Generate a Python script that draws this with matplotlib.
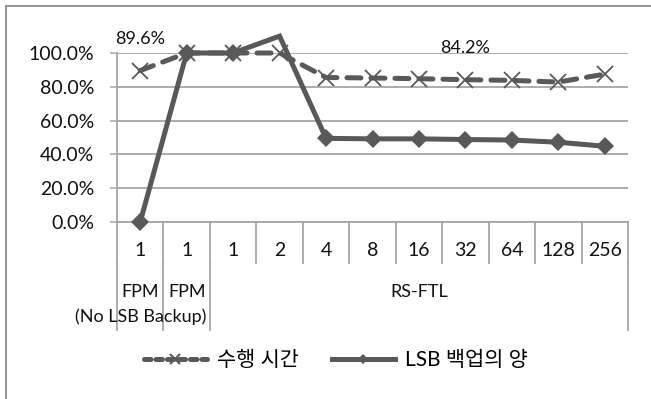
import numpy as np
import matplotlib
matplotlib.use("Agg")
import matplotlib.pyplot as plt
import matplotlib.transforms as mtransforms
from matplotlib.lines import Line2D
from matplotlib.patches import Rectangle

plt.rcParams['font.family'] = ['Lato', 'Noto Sans CJK KR', 'DejaVu Sans']

# category axis: unit counts, grouped by scheme
units = ["1", "1", "1", "2", "4", "8", "16", "32", "64", "128", "256"]
groups = ["FPM\n(No LSB Backup)", "FPM", "RS-FTL"]
group_spans = [(0, 0), (1, 1), (2, 10)]

# normalized values (1.0 = 100%)
exec_time = [0.896, 1.00, 1.00, 1.00, 0.855, 0.852, 0.848, 0.842, 0.838, 0.828, 0.875]
lsb_backup = [0.00, 1.00, 1.00, 1.10, 0.495, 0.492, 0.492, 0.488, 0.485, 0.472, 0.448]
labeled_points = [0, 7]

LINE = "#595959"
GRID = "#a6a6a6"
W, H = 651, 399

fig = plt.figure(figsize=(W / 100, H / 100), dpi=100)
ax = fig.add_axes([117 / W, (H - 222) / H, (628 - 117) / W, 169 / H])

x = np.arange(len(units))
ax.set_xlim(-0.5, len(units) - 0.5)
ax.set_ylim(0, 1)

# execution time, dashed with x markers
ax.plot(x, exec_time, color=LINE, lw=3.6, dashes=(2.8, 2.0),
        dash_capstyle="round", clip_on=False, zorder=3)
ax.plot(x, exec_time, ls="none", marker="x", ms=12, mew=1.3, color=LINE,
        clip_on=False, zorder=4)

# LSB backup amount, solid with diamonds; points above the axis max keep no marker
ax.plot(x, lsb_backup, color=LINE, lw=3.6, solid_joinstyle="miter",
        clip_on=False, zorder=3)
lsb_marks = np.where(np.array(lsb_backup) > 1.0, np.nan, lsb_backup)
ax.plot(x, lsb_marks, ls="none", marker="D", ms=9, mew=0, color=LINE,
        clip_on=False, zorder=4)

for i in labeled_points:
    ax.annotate(f"{exec_time[i] * 100:.1f}%", (x[i], exec_time[i]),
                xytext=(0, 23), textcoords="offset points",
                ha="center", va="center", fontsize=13, color="#111111",
                annotation_clip=False)

# y axis
ax.set_yticks(np.arange(0, 1.01, 0.2))
ax.set_yticklabels([f"{v * 100:.1f}%" for v in np.arange(0, 1.01, 0.2)])
ax.tick_params(axis="y", length=5, width=1.1, color=GRID, pad=11.5,
               labelsize=14, labelcolor="#111111")
ax.grid(axis="y", color=GRID, lw=1.3)
ax.set_axisbelow(True)
for side in ["top", "right"]:
    ax.spines[side].set_visible(False)
ax.spines["left"].set_color(GRID)
ax.spines["left"].set_linewidth(1.3)
ax.spines["bottom"].set_color(GRID)
ax.spines["bottom"].set_linewidth(1.3)
ax.set_xticks([])

# multi-level category axis
trans = mtransforms.blended_transform_factory(ax.transData, ax.transAxes)
for b in np.arange(-0.5, len(units), 1.0):
    ax.plot([b, b], [0, -41 / 169], color=GRID, lw=1.3, transform=trans,
            clip_on=False)
for i, u in enumerate(units):
    ax.text(i, -28 / 169, u, transform=trans, ha="center", va="center",
            fontsize=14, color="#111111")
group_edges = sorted({s - 0.5 for s, _ in group_spans} | {e + 0.5 for _, e in group_spans})
for b in group_edges:
    ax.plot([b, b], [-41 / 169, -108 / 169], color=GRID, lw=1.3,
            transform=trans, clip_on=False)
for g, (s, e) in zip(groups, group_spans):
    for k, line in enumerate(g.split("\n")):
        ax.text((s + e) / 2, (-70 - 25 * k) / 169, line, transform=trans,
                ha="center", va="center", fontsize=13, color="#111111")

# legend
handles = [
    Line2D([], [], color=LINE, lw=3.6, dashes=(1.3, 1.0), dash_capstyle="round",
           marker="x", ms=7, mew=1.5),
    Line2D([], [], color=LINE, lw=3.6, marker="D", ms=5, mew=0),
]
fig.legend(handles, ["수행 시간", "LSB 백업의 양"], loc="center",
           bbox_to_anchor=(336 / W, 1 - 360 / H), ncol=2, frameon=False,
           fontsize=15, handlelength=3.0, handletextpad=0.5, columnspacing=1.6)

# chart border
fig.add_artist(Rectangle((6 / W, -0.1), 1.2, 1.1 - 6 / H, transform=fig.transFigure,
                         fill=False, ec="#8c8c8c", lw=1.3))

fig.savefig("out.png", dpi=100)
